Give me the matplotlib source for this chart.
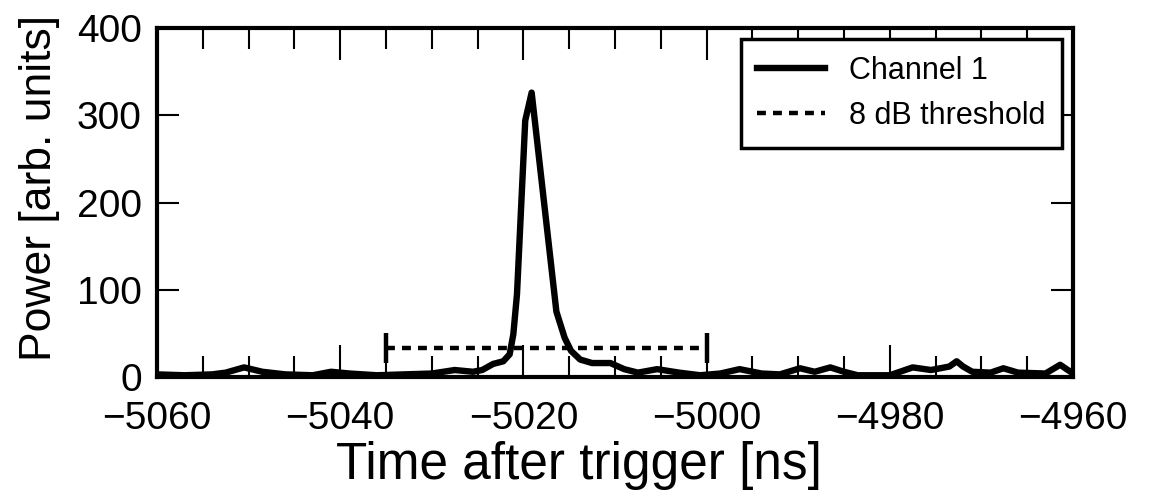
import numpy as np
import matplotlib
matplotlib.use("Agg")
import matplotlib.pyplot as plt
from matplotlib.ticker import MultipleLocator

plt.rcParams['font.family'] = ['Liberation Sans', 'DejaVu Sans']

# channel 1 power trace
time_ns = [-5060, -5057, -5054, -5052.5, -5050.5, -5048.5, -5046, -5043, -5041, -5039,
           -5036, -5033, -5030, -5027.5, -5025.5, -5024.5, -5023.3, -5022.2, -5021.5, -5021.1,
           -5020.7, -5019.8, -5019.1, -5016.4, -5015.5, -5014.8, -5013.8, -5012.5, -5010.5, -5009,
           -5007.5, -5005.4, -5003, -5000.7, -4998.5, -4996.4, -4994, -4992, -4989.8, -4988.2,
           -4986.5, -4985, -4983.5, -4980, -4977.5, -4975.5, -4973.5, -4972.7, -4972, -4971,
           -4969, -4967.6, -4966, -4963, -4961.4, -4960]
power = [3, 2, 3, 5, 11, 6, 3, 2, 6, 4,
         2, 3, 4, 8, 6, 8, 15, 18, 26, 49,
         95, 294, 326, 75, 45, 30, 20, 16, 16, 9,
         5, 9, 5, 2, 4, 9, 4, 3, 10, 6,
         11, 6, 2, 2, 11, 8, 12, 18, 12, 6,
         5, 10, 5, 4, 14, 4]

# 8 dB threshold window
thr_start = -5035
thr_end = -5000
thr_level = 33
cap_half = 17

fig = plt.figure(figsize=(11.57, 5.01), dpi=100)
ax = fig.add_axes([0.1357, 0.2475, 0.7917, 0.6965])

ax.plot(time_ns, power, color="black", lw=4.6, label="Channel 1", solid_joinstyle="round")
ax.plot([thr_start, thr_end], [thr_level, thr_level], color="black", lw=3.2,
        dashes=(2, 1.6), label="8 dB threshold")
ax.vlines([thr_start, thr_end], thr_level - cap_half, thr_level + cap_half,
          color="black", lw=3.2)

ax.set_xlim(-5060, -4960)
ax.set_ylim(0, 400)
ax.xaxis.set_major_locator(MultipleLocator(20))
ax.xaxis.set_minor_locator(MultipleLocator(5))
ax.yaxis.set_major_locator(MultipleLocator(100))
ax.tick_params(which="both", direction="in", top=True, right=True, labelsize=28, width=1.5)
ax.tick_params(axis="x", which="major", length=23, pad=17)
ax.tick_params(axis="x", which="minor", length=15)
ax.tick_params(axis="y", which="major", length=16, pad=11)
for s in ax.spines.values():
    s.set_linewidth(3)

# axis titles placed like the original (x title centred on the figure)
fig.text(0.5, 0.070, "Time after trigger [ns]", fontsize=37, ha="center", va="center")
fig.text(0.034, 0.625, "Power [arb. units]", fontsize=32, rotation=90,
         ha="center", va="center")

leg = ax.legend(loc="upper right", fontsize=22, fancybox=False, framealpha=1,
                edgecolor="black", handlelength=2.2, borderaxespad=0.35,
                labelspacing=0.5, borderpad=0.55)
leg.get_frame().set_linewidth(2.5)

plt.savefig("out.png", dpi=100)
